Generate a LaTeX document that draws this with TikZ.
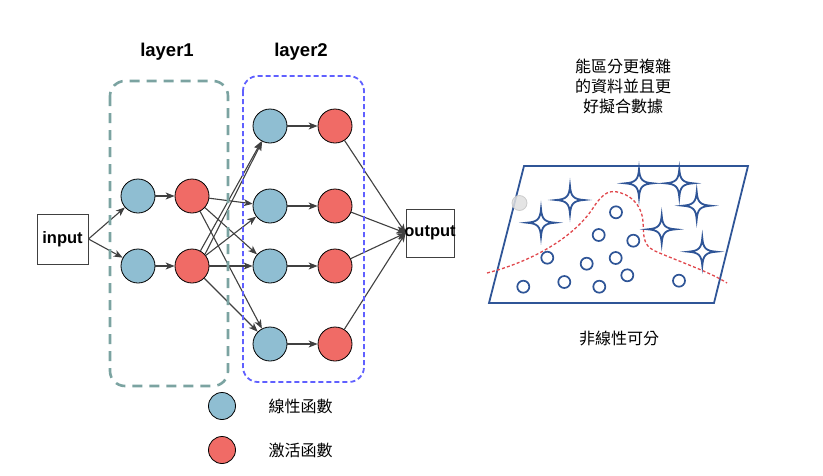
\documentclass[tikz,border=0pt]{standalone}
\usepackage{fontspec}
\setmainfont{Liberation Sans}
\newfontfamily\cjk{Noto Sans CJK TC}
\usetikzlibrary{arrows.meta}
\definecolor{linfill}{HTML}{8FBED2}
\definecolor{actfill}{HTML}{F06B66}
\definecolor{tealbox}{HTML}{7BA3A1}
\definecolor{bluebox}{HTML}{6060FF}
\definecolor{edgecol}{HTML}{404040}
\definecolor{navy}{HTML}{2F5597}
\definecolor{redline}{HTML}{E0474C}
\newcommand\mystar[1]{%
  \begin{scope}[shift={(#1)}]
    \draw[navy, line width=1.8pt, fill=white, line join=miter]
      (14,0) .. controls (3.5,0.8) and (0.8,3.5) .. (0,14)
      .. controls (-0.8,3.5) and (-3.5,0.8) .. (-14,0)
      .. controls (-3.5,-0.8) and (-0.8,-3.5) .. (0,-14)
      .. controls (0.8,-3.5) and (3.5,-0.8) .. cycle;
  \end{scope}}
\newcommand\mydot[1]{\draw[navy, line width=1.7pt, fill=white] (#1) circle (6);}
\begin{document}
\begin{tikzpicture}[x=1pt,y=-1pt,
  linnode/.style={circle,draw=black,line width=0.8pt,fill=linfill,minimum size=34pt,inner sep=0pt},
  actnode/.style={circle,draw=black,line width=0.8pt,fill=actfill,minimum size=34pt,inner sep=0pt},
  boxnode/.style={draw=edgecol,line width=0.9pt,fill=white,inner sep=0pt,font=\bfseries\fontsize{16.5}{20}\selectfont},
  conn/.style={draw=edgecol,line width=1.1pt,-{Stealth[length=9pt,width=7pt,inset=2.5pt]}},
  title/.style={font=\bfseries\fontsize{18.5}{22}\selectfont,anchor=base},
  cjktext/.style={font=\cjk\fontsize{16}{20}\selectfont,align=center,inner sep=0pt}
]
\useasboundingbox (0,0) rectangle (823,475);

% titles
\node[title] (t1) at (167,56) {layer1};
\node[title] (t2) at (301,56) {layer2};

% input / output
\node[boxnode,minimum width=51pt,minimum height=50pt] (in) at (62.5,239) {input};
\node[boxnode,minimum width=48pt,minimum height=48pt] (out) at (430,233) {};
\node[font=\bfseries\fontsize{16.5}{20}\selectfont,inner sep=0pt] (outlbl) at (430,233) {output};

% layer1
\node[linnode] (a1) at (138,196) {};
\node[linnode] (a2) at (138,266) {};
\node[actnode] (b1) at (192,196) {};
\node[actnode] (b2) at (192,266) {};

% layer2
\node[linnode] (c1) at (270,126) {};
\node[linnode] (c2) at (270,206) {};
\node[linnode] (c3) at (270,266) {};
\node[linnode] (c4) at (270,344) {};
\node[actnode] (d1) at (335,126) {};
\node[actnode] (d2) at (335,206) {};
\node[actnode] (d3) at (335,266) {};
\node[actnode] (d4) at (335,344) {};

% edges
\draw[conn] (in.east) -- (a1);
\draw[conn] (in.east) -- (a2);
\draw[conn] (a1) -- (b1);
\draw[conn] (a2) -- (b2);
\draw[conn] (b1) -- (c2);
\draw[conn] (b1) -- (c3);
\draw[conn] (b1) -- (c4);
\draw[conn] (b2) -- (c1);
\draw[conn] (b2.42) -- (c1);
\draw[conn] (b2) -- (c2);
\draw[conn] (b2) -- (c3);
\draw[conn] (b2) -- (c4);
\draw[conn] (c1) -- (d1);
\draw[conn] (c2) -- (d2);
\draw[conn] (c3) -- (d3);
\draw[conn] (c4) -- (d4);
\draw[conn] (d1) -- (out.west);
\draw[conn] (d2) -- (out.west);
\draw[conn] (d3) -- (out.west);
\draw[conn] (d4) -- (out.west);

% layer boxes
\draw[tealbox, line width=2.6pt, dash pattern=on 10pt off 7pt, rounded corners=15pt] (110,81) rectangle (228,386);
\draw[bluebox, line width=1.8pt, dash pattern=on 5pt off 3pt, rounded corners=15pt] (243,76) rectangle (364,382);

% legend
\node[linnode,minimum size=27pt] (lg1) at (222,406) {};
\node[actnode,minimum size=27pt] (lg2) at (222,450) {};
\node[cjktext] (lt1) at (300.5,406) {線性函數};
\node[cjktext] (lt2) at (300.5,450) {激活函數};

% right side
\node[cjktext] (rt) at (623,86) {能區分更複雜\\的資料並且更\\好擬合數據};
\node[cjktext] (rb) at (619,338) {非線性可分};

\draw[navy, line width=1.8pt, line join=miter] (524,166) -- (748,166) -- (714,303) -- (489,303) -- cycle;
\fill[gray!25, draw=gray!45, line width=0.8pt, opacity=0.85] (519.5,203) circle (7.5);

\draw[redline, line width=1.3pt, dash pattern=on 3pt off 2.2pt]
  (487,273) .. controls (530,262) and (575,238) .. (595,205)
  .. controls (602,195) and (608,191) .. (614,191.5)
  .. controls (630,193) and (642,205) .. (643,222)
  .. controls (644,235) and (642,245) .. (655,251)
  .. controls (680,262) and (710,272) .. (727,283);

\mystar{570,200}
\mystar{541,222.7}
\mystar{639,183.3}
\mystar{679.3,183.3}
\mystar{696.7,205.7}
\mystar{661.7,229.3}
\mystar{702.3,251.7}

\mydot{616,212.3}
\mydot{598.7,235}
\mydot{633.3,240.7}
\mydot{547.3,257.7}
\mydot{586.7,263.7}
\mydot{615.7,258}
\mydot{627.3,275.3}
\mydot{564.3,282}
\mydot{599.3,286.7}
\mydot{523.3,286.7}
\mydot{679,280.7}
\end{tikzpicture}
\end{document}
